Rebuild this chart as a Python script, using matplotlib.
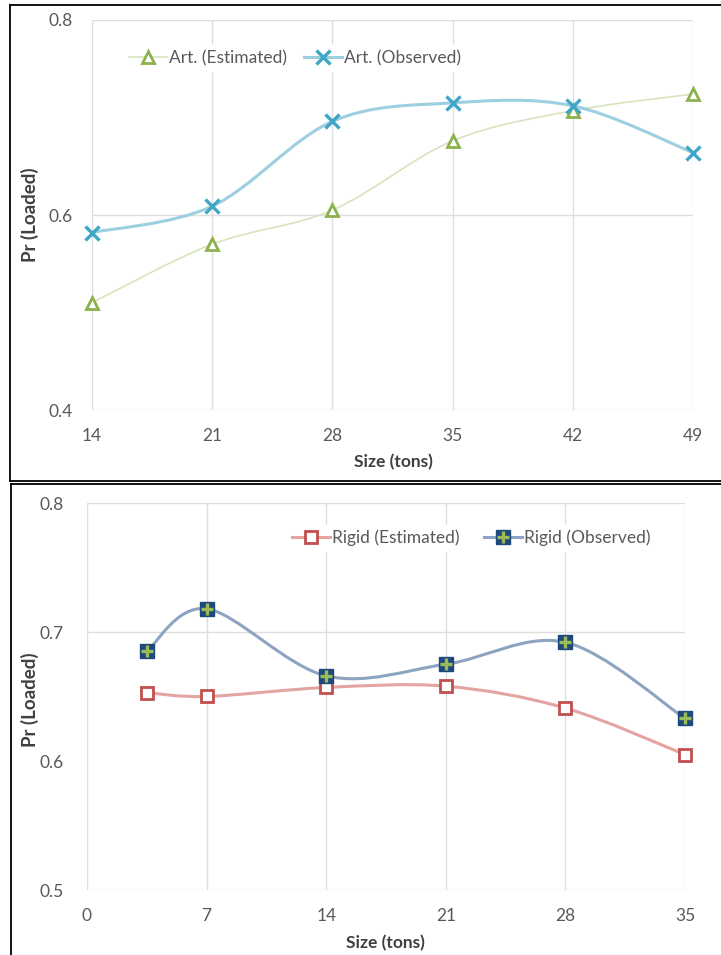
import numpy as np
import matplotlib
matplotlib.use('Agg')
import matplotlib.pyplot as plt
from matplotlib.path import Path
from matplotlib.patches import PathPatch
from matplotlib.lines import Line2D

plt.rcParams['font.family'] = ['Lato', 'DejaVu Sans']

# top panel: articulated trucks
art_sizes = [14, 21, 28, 35, 42, 49]
art_est = [0.510, 0.570, 0.605, 0.676, 0.707, 0.724]
art_obs = [0.582, 0.609, 0.696, 0.715, 0.712, 0.664]

# bottom panel: rigid trucks
rigid_sizes = [3.5, 7, 14, 21, 28, 35]
rigid_est = [0.653, 0.650, 0.657, 0.658, 0.641, 0.605]
rigid_obs = [0.685, 0.718, 0.666, 0.675, 0.692, 0.633]

top_xticks = [14, 21, 28, 35, 42, 49]
top_yticks = [0.4, 0.6, 0.8]
bot_xticks = [0, 7, 14, 21, 28, 35]
bot_yticks = [0.5, 0.6, 0.7, 0.8]

TICK_C = '#595959'
GRID_C = '#dedede'


def smooth_path(xs, ys):
    # excel style smoothed line (catmull-rom as cubic bezier)
    pts = np.column_stack([xs, ys]).astype(float)
    n = len(pts)
    verts = [pts[0]]
    codes = [Path.MOVETO]
    for i in range(n - 1):
        p0 = pts[i - 1] if i > 0 else pts[i]
        p1 = pts[i]
        p2 = pts[i + 1]
        p3 = pts[i + 2] if i + 2 < n else pts[i + 1]
        c1 = p1 + (p2 - p0) / 6.0
        c2 = p2 - (p3 - p1) / 6.0
        verts += [c1, c2, p2]
        codes += [Path.CURVE4] * 3
    return Path(verts, codes)


def add_curve(ax, xs, ys, color, lw, z):
    patch = PathPatch(smooth_path(xs, ys), facecolor='none', edgecolor=color,
                      lw=lw, zorder=z, capstyle='round')
    ax.add_patch(patch)


def style_axes(ax, xticks, yticks, grid_y, xpad, ypad):
    for s in ax.spines.values():
        s.set_visible(False)
    ax.set_xticks(xticks)
    ax.set_yticks(yticks)
    ax.set_yticklabels([f'{v:.1f}' for v in yticks])
    ax.tick_params(length=0, colors=TICK_C, labelsize=12.5)
    ax.tick_params(axis='x', pad=xpad)
    ax.tick_params(axis='y', pad=ypad)
    for x in xticks:
        ax.axvline(x, color=GRID_C, lw=1, zorder=0)
    for y in grid_y:
        ax.axhline(y, color=GRID_C, lw=1, zorder=0)


W, H = 721, 955
fig = plt.figure(figsize=(W / 100, H / 100), dpi=100)

# ---- top chart
ax1 = fig.add_axes([92 / W, 1 - 410 / H, 601 / W, 390 / H])
ax1.set_xlim(14, 49)
ax1.set_ylim(0.4, 0.8)
style_axes(ax1, top_xticks, top_yticks, [0.4, 0.6, 0.8], 13, 14)

add_curve(ax1, art_sizes, art_est, '#d7e4bd', 1.2, 2)
ax1.plot(art_sizes, art_est, ls='none', marker='^', ms=9, mfc='white',
         mec='#8db14c', mew=2, zorder=3, clip_on=False)
add_curve(ax1, art_sizes, art_obs, '#9ccfe0', 2.2, 4)
ax1.plot(art_sizes, art_obs, ls='none', marker='x', ms=10, mec='#3fa6c6',
         mew=2.4, zorder=5, clip_on=False)

h1 = Line2D([], [], color='#d7e4bd', lw=1.2, marker='^', ms=9, mfc='white',
            mec='#8db14c', mew=2)
h2 = Line2D([], [], color='#9ccfe0', lw=2.2, marker='x', ms=10,
            mec='#3fa6c6', mew=2.4)
leg1 = ax1.legend([h1, h2], ['Art. (Estimated)', 'Art. (Observed)'], ncol=2,
                  loc='center', bbox_to_anchor=(295 / W, 1 - 58 / H),
                  bbox_transform=fig.transFigure, frameon=True,
                  fontsize=12.5, handlelength=2.2, handletextpad=0.1,
                  columnspacing=1.0, borderpad=0.3)
leg1.get_frame().set_edgecolor('white')
leg1.get_frame().set_facecolor('white')
leg1.get_frame().set_alpha(1)
for t in leg1.get_texts():
    t.set_color(TICK_C)

fig.text(393 / W, 1 - 462 / H, 'Size (tons)', ha='center', va='center',
         fontsize=12.5, fontweight='bold', color='#404040')
fig.text(30 / W, 1 - 215 / H, 'Pr (Loaded)', ha='center', va='center',
         rotation=90, fontsize=13.5, fontweight='bold', color='#404040')

# ---- bottom chart
ax2 = fig.add_axes([87 / W, 1 - 890 / H, 598 / W, 387 / H])
ax2.set_xlim(0, 35)
ax2.set_ylim(0.5, 0.8)
style_axes(ax2, bot_xticks, bot_yticks, [0.5, 0.7, 0.8], 13, 17)

add_curve(ax2, rigid_sizes, rigid_est, '#e3a4a2', 2.2, 2)
ax2.plot(rigid_sizes, rigid_est, ls='none', marker='s', ms=9, mfc='white',
         mec='#c0504d', mew=2, zorder=3, clip_on=False)
add_curve(ax2, rigid_sizes, rigid_obs, '#8ca4c2', 2.2, 4)
ax2.plot(rigid_sizes, rigid_obs, ls='none', marker='s', ms=10, mfc='#1f497d',
         mec='#1f497d', zorder=5, clip_on=False)
ax2.plot(rigid_sizes, rigid_obs, ls='none', marker='+', ms=8, mec='#9bbb59',
         mew=2.4, zorder=6, clip_on=False)

h3 = Line2D([], [], color='#e3a4a2', lw=2.2, marker='s', ms=9, mfc='white',
            mec='#c0504d', mew=2)
h4a = Line2D([], [], color='#8ca4c2', lw=2.2, marker='s', ms=10,
             mfc='#1f497d', mec='#1f497d')
h4b = Line2D([], [], ls='none', marker='+', ms=8, mec='#9bbb59', mew=2.4)
leg2 = ax2.legend([h3, (h4a, h4b)], ['Rigid (Estimated)', 'Rigid (Observed)'],
                  ncol=2, loc='center', bbox_to_anchor=(471 / W, 1 - 538 / H),
                  bbox_transform=fig.transFigure, frameon=True,
                  fontsize=12.5, handlelength=2.2, handletextpad=0.1,
                  columnspacing=1.4, borderpad=0.3)
leg2.get_frame().set_edgecolor('white')
leg2.get_frame().set_facecolor('white')
leg2.get_frame().set_alpha(1)
for t in leg2.get_texts():
    t.set_color(TICK_C)

fig.text(385 / W, 1 - 943 / H, 'Size (tons)', ha='center', va='center',
         fontsize=12.5, fontweight='bold', color='#404040')
fig.text(30 / W, 1 - 700 / H, 'Pr (Loaded)', ha='center', va='center',
         rotation=90, fontsize=13.5, fontweight='bold', color='#404040')

# panel borders
def border(x0, y0, x1, y1):
    xs = [x0 / W, x1 / W]
    ys = [1 - y0 / H, 1 - y1 / H]
    fig.add_artist(Line2D(xs, ys, color='black', lw=1.3,
                          transform=fig.transFigure))

border(9.5, 5, 730, 5)
border(9.5, 5, 9.5, 481)
border(9.5, 481, 730, 481)
border(10.5, 484, 730, 484)
border(10.5, 484, 10.5, 960)

fig.savefig('out.png', dpi=100)
